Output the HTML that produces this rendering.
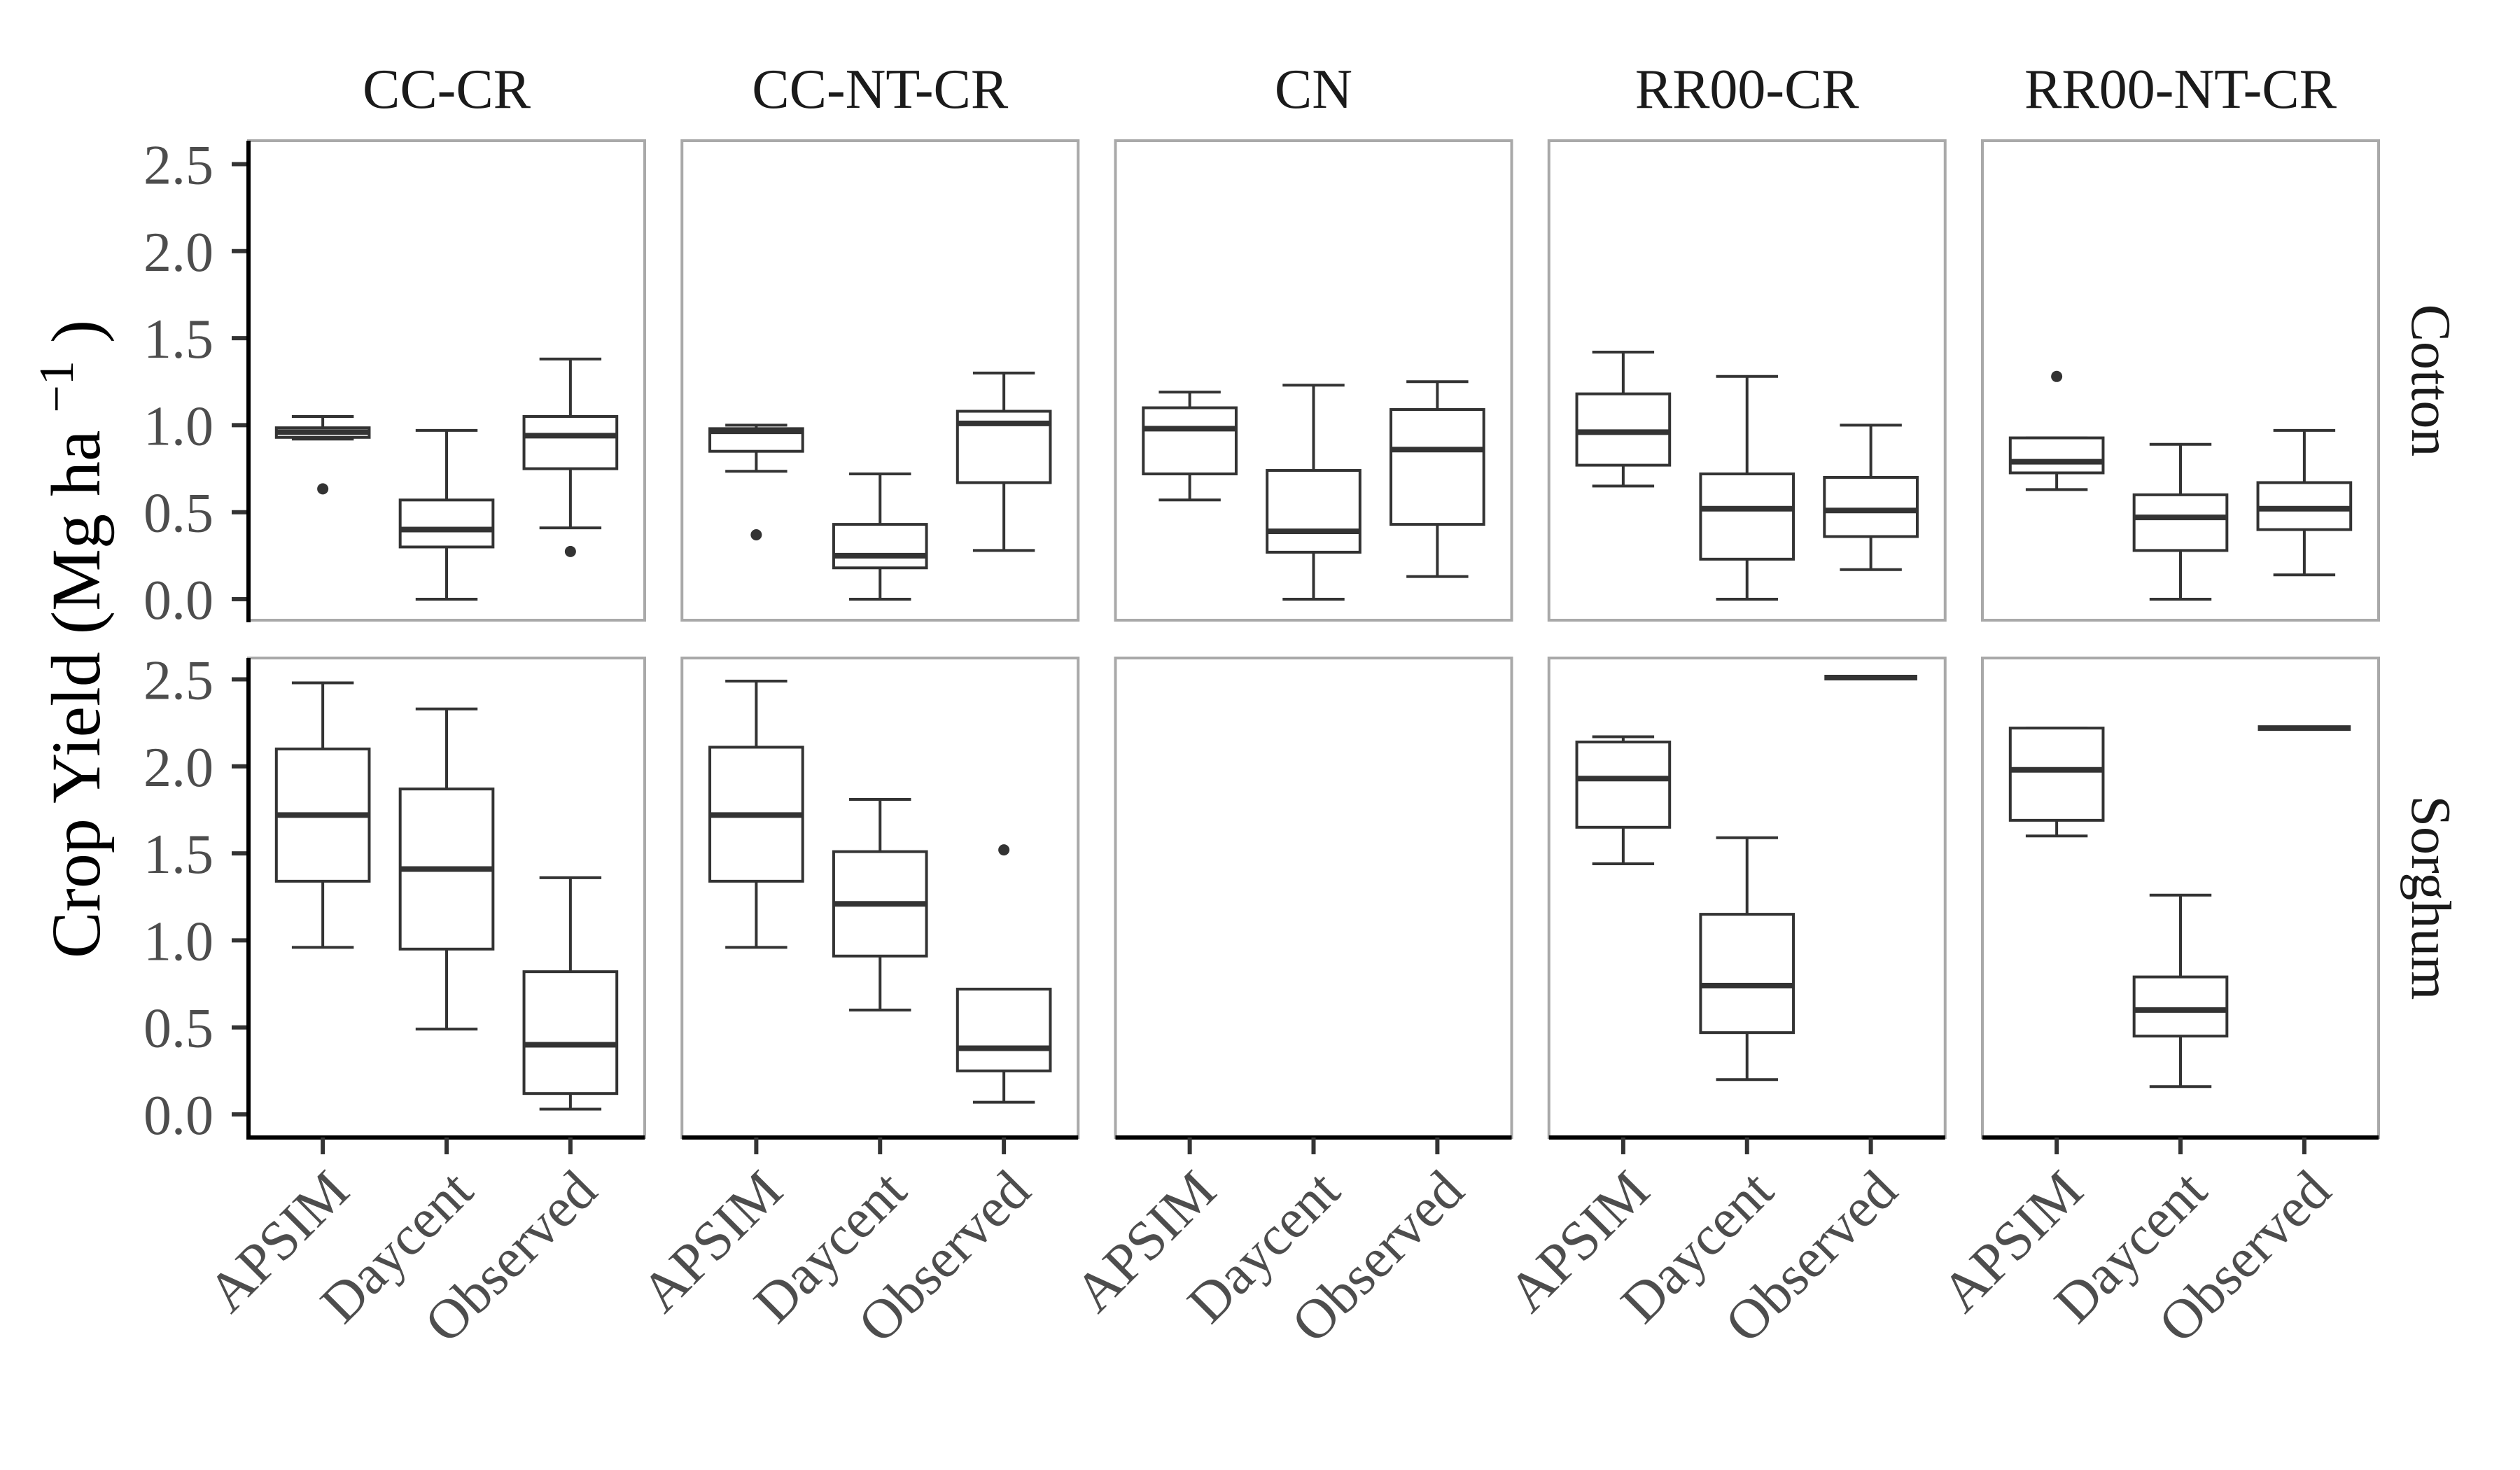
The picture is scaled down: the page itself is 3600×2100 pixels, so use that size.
<!DOCTYPE html>
<html><head><meta charset="utf-8"><style>
html,body{margin:0;padding:0;background:#fff;}
svg{display:block;}
text{font-family:"Liberation Serif",serif;}
</style></head><body>
<svg id="chart" xmlns="http://www.w3.org/2000/svg" width="3600" height="2100" viewBox="0 0 3600 2100">
<rect x="0" y="0" width="3600" height="2100" fill="#fff"/>
<g id="layer"></g>
</svg>
<script>
const systems = ["CC-CR","CC-NT-CR","CN","RR00-CR","RR00-NT-CR"];
const crops = ["Cotton","Sorghum"];
const models = ["APSIM","Daycent","Observed"];
const yTicks = [0.0,0.5,1.0,1.5,2.0,2.5];
const yTickLabels = ["0.0","0.5","1.0","1.5","2.0","2.5"];
// each box: [lowerWhisker, q1, median, q3, upperWhisker]
const cottonBoxes = [
  [[0.92,0.93,0.96,0.985,1.05],[0.0,0.30,0.40,0.57,0.97],[0.41,0.75,0.94,1.05,1.38]],
  [[0.735,0.85,0.965,0.98,1.00],[0.0,0.18,0.25,0.43,0.72],[0.28,0.67,1.01,1.08,1.30]],
  [[0.57,0.72,0.98,1.10,1.19],[0.0,0.27,0.39,0.74,1.23],[0.13,0.43,0.86,1.09,1.25]],
  [[0.65,0.77,0.96,1.18,1.42],[0.0,0.23,0.52,0.72,1.28],[0.17,0.36,0.51,0.70,1.00]],
  [[0.63,0.726,0.79,0.927,0.927],[0.0,0.28,0.47,0.60,0.89],[0.14,0.40,0.52,0.67,0.97]]
];
const cottonOutliers = [[[0.634],[],[0.274]],[[0.37],[],[]],[[],[],[]],[[],[],[]],[[1.28],[],[]]];
const sorghumBoxes = [
  [[0.96,1.34,1.72,2.10,2.48],[0.49,0.95,1.41,1.87,2.33],[0.03,0.12,0.40,0.82,1.36]],
  [[0.96,1.34,1.72,2.11,2.49],[0.60,0.91,1.21,1.51,1.81],[0.07,0.25,0.38,0.72,0.72]],
  [null,null,null],
  [[1.44,1.65,1.93,2.14,2.17],[0.20,0.47,0.74,1.15,1.59],[2.51,2.51,2.51,2.51,2.51]],
  [[1.60,1.69,1.98,2.22,2.22],[0.16,0.45,0.60,0.79,1.26],[2.22,2.22,2.22,2.22,2.22]]
];
const sorghumOutliers = [[[],[],[]],[[],[],[1.52]],[[],[],[]],[[],[],[]],[[],[],[]]];

const NS="http://www.w3.org/2000/svg";
const layer=document.getElementById('layer');
function mk(tag,attrs,parent){const e=document.createElementNS(NS,tag);for(const k in attrs)e.setAttribute(k,attrs[k]);(parent||layer).appendChild(e);return e;}

const panelLeft0=355, panelPitch=619.25, panelW=566;
const rowTop=[201,940], rowH=685;
const yZero=[856,1592], yPerUnit=248.6;
function yScale(r,v){return yZero[r]-v*yPerUnit;}
function xScale(p,i){return panelLeft0+p*panelPitch+(i+0.6)*(panelW/3.2);}
const boxW=0.75*panelW/3.2;

const yt=mk('text',{x:0,y:0,transform:'translate(142,913) rotate(-90)','text-anchor':'middle','font-size':'100',fill:'#000'});


yt.appendChild(document.createTextNode('Crop Yield (Mg ha '));
const sup=document.createElementNS(NS,'tspan');sup.setAttribute('baseline-shift','super');sup.setAttribute('font-size','70');sup.textContent='\u22121';yt.appendChild(sup);
const cl=document.createElementNS(NS,'tspan');cl.textContent=' )';yt.appendChild(cl);

for(let p=0;p<systems.length;p++){
  const px=panelLeft0+p*panelPitch;
  const st=mk('text',{x:px+panelW/2,y:154,'text-anchor':'middle','font-size':'80',fill:'#1a1a1a'});
  
  
  st.textContent=systems[p];
}
for(let r=0;r<2;r++){
  const rt=mk('text',{x:0,y:0,transform:`translate(3446,${rowTop[r]+rowH/2}) rotate(90)`,'text-anchor':'middle','font-size':'80',fill:'#1a1a1a'});
  
  
  rt.textContent=crops[r];
  for(let t=0;t<yTicks.length;t++){
    const y=yScale(r,yTicks[t]);
    const tk=mk('line',{x1:331,x2:355,y1:y,y2:y,stroke:'#333',"stroke-width":6});
    
    
    const tl=mk('text',{x:305,y:y,dy:'0.35em','text-anchor':'end','font-size':'80',fill:'#4d4d4d'});
    
    
    tl.textContent=yTickLabels[t];
  }
  for(let p=0;p<systems.length;p++){
    const px=panelLeft0+p*panelPitch;
    const g=mk('g',{});
    
    
    mk('rect',{x:px,y:rowTop[r],width:panelW,height:rowH,fill:'none',stroke:'#a9a9a9','stroke-width':4},g);
    const boxes=r===0?cottonBoxes[p]:sorghumBoxes[p];
    const outs=r===0?cottonOutliers[p]:sorghumOutliers[p];
    for(let i=0;i<3;i++){
      const cx=xScale(p,i);
      const b=boxes[i];
      if(b){
        const bg=mk('g',{},g);
        
        
        const [lo,q1,med,q3,hi]=b;
        mk('line',{x1:cx,x2:cx,y1:yScale(r,hi),y2:yScale(r,q3),stroke:'#333','stroke-width':4},bg);
        mk('line',{x1:cx,x2:cx,y1:yScale(r,q1),y2:yScale(r,lo),stroke:'#333','stroke-width':4},bg);
        mk('line',{x1:cx-boxW/3,x2:cx+boxW/3,y1:yScale(r,hi),y2:yScale(r,hi),stroke:'#333','stroke-width':4},bg);
        mk('line',{x1:cx-boxW/3,x2:cx+boxW/3,y1:yScale(r,lo),y2:yScale(r,lo),stroke:'#333','stroke-width':4},bg);
        mk('rect',{x:cx-boxW/2,y:yScale(r,q3),width:boxW,height:Math.max(0,yScale(r,q1)-yScale(r,q3)),fill:'#fff',stroke:'#333','stroke-width':4},bg);
        mk('line',{x1:cx-boxW/2,x2:cx+boxW/2,y1:yScale(r,med),y2:yScale(r,med),stroke:'#333','stroke-width':8},bg);
      }
      for(const o of outs[i]){
        const c=mk('circle',{cx:cx,cy:yScale(r,o),r:8,fill:'#333'},g);
        
        
      }
    }
    if(r===1){
      const xa=mk('line',{x1:px,x2:px+panelW,y1:rowTop[1]+rowH,y2:rowTop[1]+rowH,stroke:'#000','stroke-width':6});
      
      
      for(let i=0;i<3;i++){
        const cx=xScale(p,i);
        const xt=mk('line',{x1:cx,x2:cx,y1:rowTop[1]+rowH,y2:rowTop[1]+rowH+24,stroke:'#333','stroke-width':6});
        
        
        const xl=mk('text',{x:0,y:0,dy:'0.7em',transform:`translate(${cx+2},1666) rotate(-45)`,'text-anchor':'end','font-size':'80',fill:'#4d4d4d'});
        
        
        xl.textContent=models[i];
      }
    }
  }
  const ya=mk('line',{x1:355,x2:355,y1:rowTop[r],y2:rowTop[r]+rowH+3,stroke:'#000','stroke-width':6});
  
  
}
</script>
</body></html>
